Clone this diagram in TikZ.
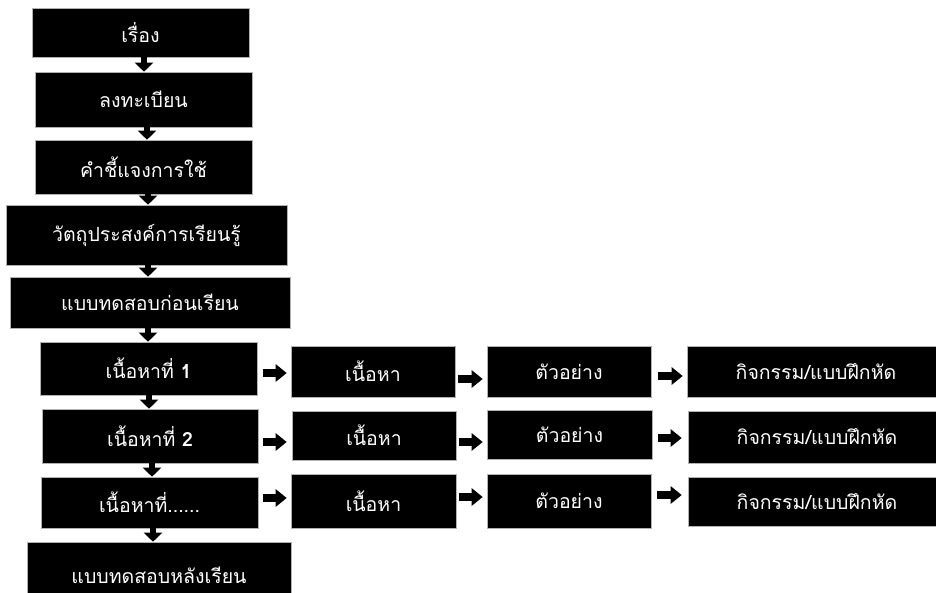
\documentclass[tikz,border=0pt]{standalone}
\usepackage{fontspec}
\newfontfamily\thai[Script=Thai]{Loma}
\usetikzlibrary{arrows.meta}

\tikzset{
  box/.style={fill=black, draw=gray!60, line width=0.6pt, text=white,
    inner sep=0pt, font=\thai\fontsize{19.5}{22}\selectfont},
  varrow/.style={line width=6pt, -{Triangle[width=18pt,length=9pt]}},
  harrow/.style={line width=8pt, -{Triangle[width=17pt,length=11pt]}}
}

\begin{document}
\begin{tikzpicture}[x=1pt, y=-1pt]
\clip (0,0) rectangle (936,592);
\fill[white] (0,0) rectangle (936,592);

% main column
\node[box, minimum width=217, minimum height=49] (b1) at (140.5,32.5) {เรื่อง};
\node[box, minimum width=217, minimum height=55] (b2) at (143.5,99.5) {ลงทะเบียน};
\node[box, minimum width=217, minimum height=54] (b3) at (143.5,167) {คำชี้แจงการใช้};
\node[box, minimum width=281, minimum height=60] (b4) at (146.5,235) {วัตถุประสงค์การเรียนรู้};
\node[box, minimum width=280, minimum height=51] (b5) at (150,302.5) {แบบทดสอบก่อนเรียน};
\node[box, minimum width=217, minimum height=53] (b6) at (148.5,368.5) {เนื้อหาที่ \textbf{1}};
\node[box, minimum width=216, minimum height=54] (b7) at (150,436) {เนื้อหาที่ \textbf{2}};
\node[box, minimum width=217, minimum height=51] (b8) at (149.5,502.5) {เนื้อหาที่......};
\node[box, minimum width=264, minimum height=66] (b9) at (159,575) {แบบทดสอบหลังเรียน};

% rows of content boxes
\node[box, minimum width=164, minimum height=51] (r1a) at (373,371.5) {เนื้อหา};
\node[box, minimum width=164, minimum height=51] (r1b) at (569,371.5) {ตัวอย่าง};
\node[box, minimum width=258, minimum height=51] (r1c) at (816,371.5) {กิจกรรม/แบบฝึกหัด};
\node[box, minimum width=164, minimum height=49] (r2a) at (374,435.5) {เนื้อหา};
\node[box, minimum width=165, minimum height=49] (r2b) at (569.5,434.5) {ตัวอย่าง};
\node[box, minimum width=258, minimum height=52] (r2c) at (817,437) {กิจกรรม/แบบฝึกหัด};
\node[box, minimum width=165, minimum height=54] (r3a) at (373.5,501) {เนื้อหา};
\node[box, minimum width=164, minimum height=54] (r3b) at (569,501) {ตัวอย่าง};
\node[box, minimum width=258, minimum height=49] (r3c) at (817,501.5) {กิจกรรม/แบบฝึกหัด};

% guide coordinates for the arrows
\coordinate (v1) at (144,0);
\coordinate (v2) at (147,0);
\coordinate (v3) at (148,0);
\coordinate (v4) at (148,0);
\coordinate (v5) at (148,0);
\coordinate (v6) at (149,0);
\coordinate (v7) at (152,0);
\coordinate (v8) at (153,0);

% vertical flow
\draw[varrow] (b1.south -| v1) -- (b2.north -| v1);
\draw[varrow] (b2.south -| v2) -- (b3.north -| v2);
\draw[varrow] (b3.south -| v3) -- (b4.north -| v3);
\draw[varrow] (b4.south -| v4) -- (b5.north -| v4);
\draw[varrow] (b5.south -| v5) -- (b6.north -| v5);
\draw[varrow] (b6.south -| v6) -- (b7.north -| v6);
\draw[varrow] (b7.south -| v7) -- (b8.north -| v7);
\draw[varrow] (b8.south -| v8) -- (b9.north -| v8);

% horizontal flow, row 1
\coordinate (h11) at (0,373);
\coordinate (h12) at (0,379);
\coordinate (h13) at (0,376);
\draw[harrow, shorten <=6pt, shorten >=4pt] (b6.east |- h11) -- (r1a.west |- h11);
\draw[harrow, shorten <=3pt, shorten >=4pt] (r1a.east |- h12) -- (r1b.west |- h12);
\draw[harrow, shorten <=7pt, shorten >=4pt] (r1b.east |- h13) -- (r1c.west |- h13);

% horizontal flow, row 2
\coordinate (h21) at (0,442);
\coordinate (h22) at (0,442);
\coordinate (h23) at (0,438);
\draw[harrow, shorten <=5pt, shorten >=5pt] (b7.east |- h21) -- (r2a.west |- h21);
\draw[harrow, shorten <=3pt, shorten >=4pt] (r2a.east |- h22) -- (r2b.west |- h22);
\draw[harrow, shorten <=6pt, shorten >=6pt] (r2b.east |- h23) -- (r2c.west |- h23);

% horizontal flow, row 3
\coordinate (h31) at (0,498);
\coordinate (h32) at (0,497);
\coordinate (h33) at (0,495);
\draw[harrow, shorten <=5pt, shorten >=4pt] (b8.east |- h31) -- (r3a.west |- h31);
\draw[harrow, shorten <=3pt, shorten >=4pt] (r3a.east |- h32) -- (r3b.west |- h32);
\draw[harrow, shorten <=6pt, shorten >=6pt] (r3b.east |- h33) -- (r3c.west |- h33);
\end{tikzpicture}
\end{document}
